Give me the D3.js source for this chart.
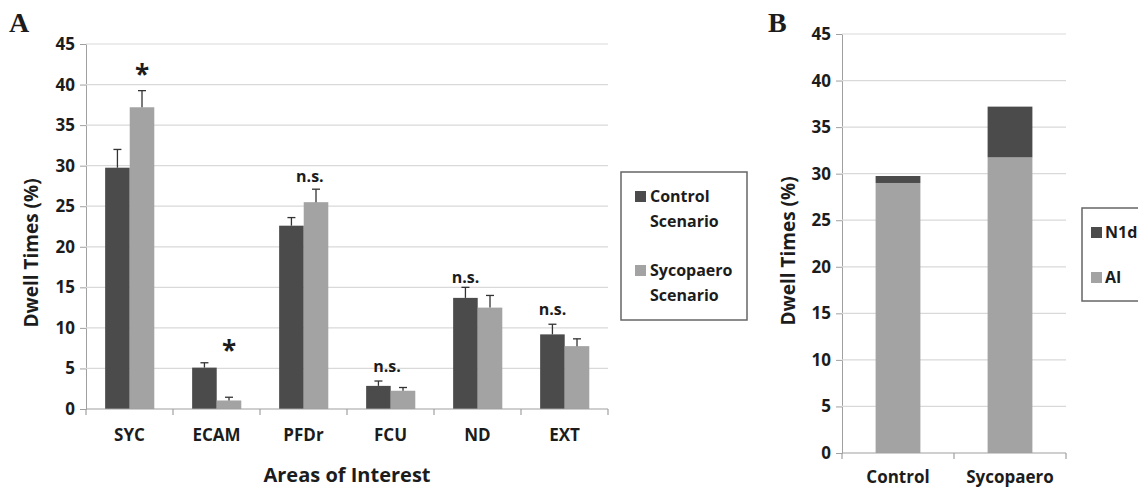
<!DOCTYPE html>
<html>
<head>
<meta charset="utf-8">
<script src="https://cdn.jsdelivr.net/npm/d3@7"></script>
<style>
  body { margin: 0; background: #fff; }
  text { font-family: "Open Sans", sans-serif; font-weight: 700; fill: #1c1c1c; }
</style>
</head>
<body>
<svg id="chart" width="1138" height="490"></svg>
<script>
// panel A data
const areas = ["SYC", "ECAM", "PFDr", "FCU", "ND", "EXT"];
const scenarios = ["Control Scenario", "Sycopaero Scenario"];
const controlMean = [29.75, 5.1, 22.6, 2.85, 13.7, 9.2];
const controlErr  = [2.25, 0.6, 1.0, 0.6, 1.3, 1.25];
const sycoMean    = [37.2, 1.05, 25.5, 2.25, 12.5, 7.75];
const sycoErr     = [2.05, 0.4, 1.6, 0.4, 1.5, 0.9];
const yTicks = [0, 5, 10, 15, 20, 25, 30, 35, 40, 45];
// significance marks: label, level (%), position over the pair (0 = control, 1 = sycopaero)
const sigLabels = ["*", "*", "n.s.", "n.s.", "n.s.", "n.s."];
const sigLevels = [41.8, 7.8, 28.6, 5.2, 16.1, 12.2];
const sigOver   = [1, 1, 0.75, 0.35, 0, 0];

// panel B data
const groupsB = ["Control", "Sycopaero"];
const partsB = ["AI", "N1d"];
const aiValues  = [29.0, 31.75];
const n1dValues = [0.75, 5.45];

const dark = "#4b4b4b", light = "#a3a3a3", grid = "#d9d9d9", axisCol = "#a0a0a0";
const svg = d3.select("#chart");

function gridAndYAxis(g, y, x0, x1) {
    g.append("g")
        .attr("transform", "translate(" + x0 + ",0)")
        .call(d3.axisLeft(y).tickValues(yTicks).tickSize(6).tickPadding(5))
        .call(a => a.select(".domain").attr("stroke", axisCol))
        .call(a => a.selectAll(".tick line").attr("stroke", axisCol))
        .call(a => a.selectAll(".tick text").attr("font-size", 17).attr("fill", "#1c1c1c"));
    g.append("g").selectAll("line")
        .data(yTicks.slice(1))
        .join("line")
        .attr("x1", x0).attr("x2", x1)
        .attr("y1", d => y(d)).attr("y2", d => y(d))
        .attr("stroke", grid).attr("stroke-width", 1.2);
}

function xAxisLine(g, x, y0, labelDy) {
    const edges = [x.range()[0]].concat(x.domain().map(d => x(d) + x.bandwidth()));
    g.append("line")
        .attr("x1", x.range()[0]).attr("x2", x.range()[1])
        .attr("y1", y0).attr("y2", y0)
        .attr("stroke", axisCol).attr("stroke-width", 1.2);
    g.append("g").selectAll("line")
        .data(edges)
        .join("line")
        .attr("x1", d => d).attr("x2", d => d)
        .attr("y1", y0).attr("y2", y0 + 6)
        .attr("stroke", axisCol).attr("stroke-width", 1.2);
    g.append("g").selectAll("text")
        .data(x.domain())
        .join("text")
        .attr("x", d => x(d) + x.bandwidth() / 2)
        .attr("y", y0 + labelDy)
        .attr("text-anchor", "middle")
        .attr("font-size", 17)
        .text(d => d);
}

function yTitle(g, x, y, text) {
    g.append("text")
        .attr("transform", "translate(" + x + "," + y + ") rotate(-90)")
        .attr("text-anchor", "middle")
        .attr("font-size", 19)
        .text(text);
}

function panelLabel(g, x, y, text) {
    g.append("text")
        .attr("x", x).attr("y", y)
        .style("font-family", "'Liberation Serif', 'DejaVu Serif', serif")
        .style("font-weight", "900")
        .attr("font-size", 28)
        .attr("fill", "#000")
        .text(text);
}

// ---------- panel A ----------
const gA = svg.append("g");
const yA = d3.scaleLinear().domain([0, 45]).range([409, 44]);
const xA = d3.scaleBand().domain(areas).range([86, 608]);
const xSub = d3.scaleBand().domain(scenarios)
    .range([xA.bandwidth() * 0.22, xA.bandwidth() * 0.785]);

gridAndYAxis(gA, yA, 86, 608);

const rowsA = areas.map((a, i) => ({
    area: a,
    vals: [
        { s: scenarios[0], v: controlMean[i], e: controlErr[i], c: dark },
        { s: scenarios[1], v: sycoMean[i], e: sycoErr[i], c: light }
    ]
}));

const groups = gA.append("g").selectAll("g")
    .data(rowsA)
    .join("g")
    .attr("transform", d => "translate(" + xA(d.area) + ",0)");

groups.selectAll("rect")
    .data(d => d.vals)
    .join("rect")
    .attr("x", d => xSub(d.s))
    .attr("width", xSub.bandwidth())
    .attr("y", d => yA(d.v))
    .attr("height", d => yA(0) - yA(d.v))
    .attr("fill", d => d.c);

const errG = groups.selectAll("g.err")
    .data(d => d.vals)
    .join("g").attr("class", "err");
errG.append("line")
    .attr("x1", d => xSub(d.s) + xSub.bandwidth() / 2)
    .attr("x2", d => xSub(d.s) + xSub.bandwidth() / 2)
    .attr("y1", d => yA(d.v))
    .attr("y2", d => yA(d.v + d.e))
    .attr("stroke", "#333").attr("stroke-width", 1.3);
errG.append("line")
    .attr("x1", d => xSub(d.s) + xSub.bandwidth() / 2 - 4)
    .attr("x2", d => xSub(d.s) + xSub.bandwidth() / 2 + 4)
    .attr("y1", d => yA(d.v + d.e))
    .attr("y2", d => yA(d.v + d.e))
    .attr("stroke", "#333").attr("stroke-width", 1.3);

// significance marks
gA.append("g").selectAll("text")
    .data(areas.map((a, i) => ({ area: a, label: sigLabels[i], level: sigLevels[i], over: sigOver[i] })))
    .join("text")
    .attr("x", d => xA(d.area) + xSub(scenarios[0]) + xSub.bandwidth() * (0.5 + d.over))
    .attr("y", d => yA(d.level) + (d.label === "*" ? 14 : 5))
    .attr("text-anchor", "middle")
    .attr("font-size", d => d.label === "*" ? 26 : 16)
    .attr("fill", "#111")
    .text(d => d.label);

xAxisLine(gA, xA, 409, 32);

gA.append("text")
    .attr("x", 347).attr("y", 482)
    .attr("text-anchor", "middle")
    .attr("font-size", 20)
    .text("Areas of Interest");
yTitle(gA, 38, 253, "Dwell Times (%)");
panelLabel(gA, 9, 32, "A");

// legend A
const legA = gA.append("g");
legA.append("rect")
    .attr("x", 621).attr("y", 172).attr("width", 126).attr("height", 148)
    .attr("fill", "none").attr("stroke", "#666").attr("stroke-width", 1.5);
const legRows = legA.selectAll("g")
    .data(scenarios.map((s, i) => ({ s: s, c: i === 0 ? dark : light, i: i })))
    .join("g")
    .attr("transform", d => "translate(635," + (191 + d.i * 74) + ")");
legRows.append("rect").attr("width", 11).attr("height", 11).attr("fill", d => d.c);
legRows.append("text")
    .attr("x", 15).attr("y", 11)
    .attr("font-size", 16)
    .text(d => d.s.split(" ")[0]);
legRows.append("text")
    .attr("x", 15).attr("y", 36)
    .attr("font-size", 16)
    .text(d => d.s.split(" ")[1]);

// ---------- panel B ----------
const gB = svg.append("g");
const yB = d3.scaleLinear().domain([0, 45]).range([453, 34]);
const xB = d3.scaleBand().domain(groupsB).range([842, 1066]).paddingInner(0).paddingOuter(0);

gridAndYAxis(gB, yB, 842, 1066);

const stackData = groupsB.map((g, i) => ({ group: g, AI: aiValues[i], N1d: n1dValues[i] }));
const series = d3.stack().keys(partsB)(stackData);
const colB = { AI: light, N1d: dark };
const barW = xB.bandwidth() * 0.4;

gB.append("g").selectAll("g")
    .data(series)
    .join("g")
    .attr("fill", d => colB[d.key])
    .selectAll("rect")
    .data(d => d)
    .join("rect")
    .attr("x", d => xB(d.data.group) + (xB.bandwidth() - barW) / 2)
    .attr("width", barW)
    .attr("y", d => yB(d[1]))
    .attr("height", d => yB(d[0]) - yB(d[1]));

xAxisLine(gB, xB, 453, 30);
yTitle(gB, 795, 251, "Dwell Times (%)");
panelLabel(gB, 768, 32, "B");

// legend B
const legB = gB.append("g");
legB.append("rect")
    .attr("x", 1082).attr("y", 208).attr("width", 80).attr("height", 93)
    .attr("fill", "none").attr("stroke", "#666").attr("stroke-width", 1.5);
const legBRows = legB.selectAll("g")
    .data(["N1d", "AI"])
    .join("g")
    .attr("transform", (d, i) => "translate(1091," + (227 + i * 45) + ")");
legBRows.append("rect").attr("width", 11).attr("height", 11).attr("fill", d => colB[d]);
legBRows.append("text")
    .attr("x", 14).attr("y", 11)
    .attr("font-size", 16)
    .text(d => d);
</script>
</body>
</html>
